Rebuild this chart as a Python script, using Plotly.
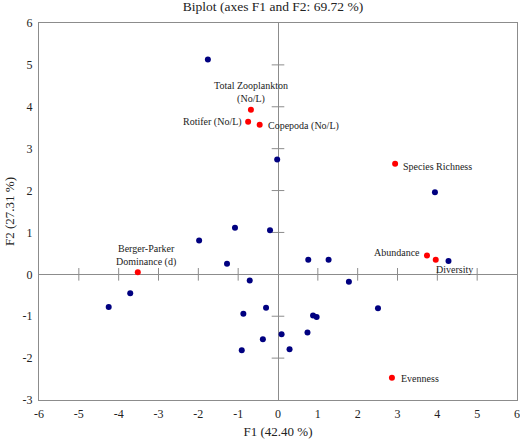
import plotly.graph_objects as go

# Observations (blue)
obs_f1 = [-1.76, -0.02, 3.94, -1.98, -1.08, -1.28, -0.71, -4.25, -3.71, -0.87, -0.91, -0.20,
          0.76, 1.27, 4.28, 1.78, 2.51, -0.30, 0.88, 0.97, 0.74, 0.09, 0.29, -0.38]
obs_f2 = [5.13, 2.74, 1.96, 0.81, 1.11, 0.25, -0.15, -0.78, -0.45, -0.94, -1.81, 1.05,
          0.35, 0.35, 0.32, -0.18, -0.81, -0.80, -0.98, -1.02, -1.39, -1.43, -1.79, -1.55]

# Variables (red)
var_names = ["Total Zooplankton<br>(No/L)", "Rotifer (No/L)", "Copepoda (No/L)", "Species Richness",
             "Berger-Parker<br>Dominance (d)", "Abundance", "Diversity", "Evenness"]
var_f1 = [-0.68, -0.75, -0.46, 2.94, -3.52, 3.74, 3.96, 2.86]
var_f2 = [3.93, 3.64, 3.57, 2.64, 0.05, 0.45, 0.35, -2.47]

x_ticks = [-6, -5, -4, -3, -2, -1, 0, 1, 2, 3, 4, 5, 6]
y_ticks = [-3, -2, -1, 0, 1, 2, 3, 4, 5, 6]

# label placement: (xanchor, yanchor, xshift, yshift)
label_pos = [
    ("center", "bottom", 0, 3),
    ("right", "middle", -4, 0),
    ("left", "middle", 6, -1),
    ("left", "middle", 6, -3),
    ("center", "bottom", 8, 2),
    ("right", "middle", -5, 3),
    ("left", "top", -2, -2),
    ("left", "middle", 7, -1),
]

FONT = "Liberation Serif, Times New Roman, serif"
AXC = "#8c8c8c"

fig = go.Figure()

# inner axis tick marks on zero lines
xt_in = [t for t in x_ticks if t not in (x_ticks[0], 0, x_ticks[-1])]
yt_in = [t for t in y_ticks if t not in (y_ticks[0], 0, y_ticks[-1])]
fig.add_trace(go.Scatter(x=xt_in, y=[0] * len(xt_in), mode="markers",
                         marker=dict(symbol="line-ns-open", size=9, color=AXC,
                                     line=dict(color=AXC, width=1)),
                         hoverinfo="skip", showlegend=False))
fig.add_trace(go.Scatter(x=[0] * len(yt_in), y=yt_in, mode="markers",
                         marker=dict(symbol="line-ew-open", size=9, color=AXC,
                                     line=dict(color=AXC, width=1)),
                         hoverinfo="skip", showlegend=False))

fig.add_trace(go.Scatter(x=obs_f1, y=obs_f2, mode="markers",
                         marker=dict(color="#000080", size=6), showlegend=False))
fig.add_trace(go.Scatter(x=var_f1, y=var_f2, mode="markers",
                         marker=dict(color="#ff0000", size=6), showlegend=False))

for name, x, y, (xa, ya, xs, ys) in zip(var_names, var_f1, var_f2, label_pos):
    fig.add_annotation(x=x, y=y, text=name, showarrow=False, xanchor=xa, yanchor=ya,
                       xshift=xs, yshift=ys, align="center",
                       font=dict(family=FONT, size=10, color="#222222"))

fig.update_layout(
    width=520, height=439,
    margin=dict(l=39, r=3, t=23, b=39),
    paper_bgcolor="white", plot_bgcolor="white",
    font=dict(family=FONT, size=12, color="#222222"),
    title=dict(text="Biplot (axes F1 and F2: 69.72 %)", x=0.525, xanchor="center",
               y=0.997, yanchor="top", font=dict(family=FONT, size=13.5, color="#222222")),
    xaxis=dict(range=[-6, 6], tickvals=x_ticks, ticktext=[str(t) for t in x_ticks],
               showgrid=False, zeroline=True, zerolinecolor=AXC, zerolinewidth=1,
               showline=True, mirror=True, linecolor=AXC, linewidth=1, ticks="",
               ticklabelstandoff=3, automargin=False,
               title=dict(text="F1 (42.40 %)", standoff=6, font=dict(size=13))),
    yaxis=dict(range=[-3, 6], tickvals=y_ticks, ticktext=[str(t) for t in y_ticks],
               showgrid=False, zeroline=True, zerolinecolor=AXC, zerolinewidth=1,
               showline=True, mirror=True, linecolor=AXC, linewidth=1, ticks="",
               ticklabelstandoff=3, automargin=False,
               title=dict(text="F2 (27.31 %)", standoff=5, font=dict(size=13))),
)

fig.write_html("out.html", config={"displayModeBar": False},
               post_script="document.body.style.margin='0';")
